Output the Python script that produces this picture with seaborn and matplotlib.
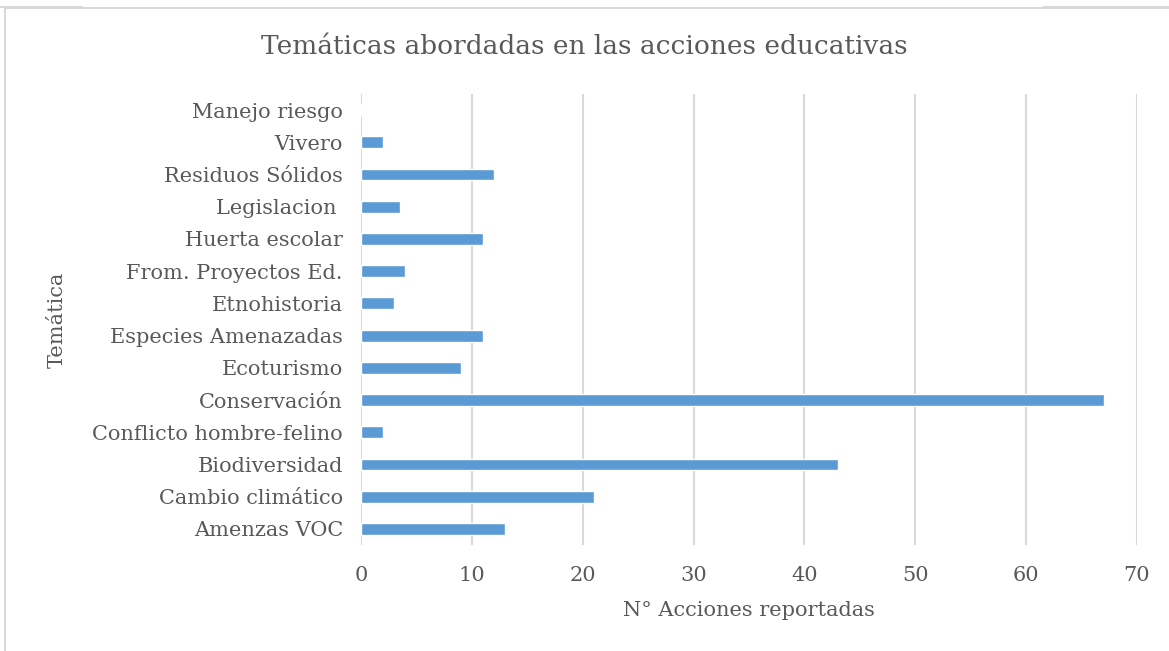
import matplotlib.pyplot as plt
import seaborn as sns
import pandas as pd
from matplotlib.lines import Line2D

tematicas = ["Manejo riesgo", "Vivero", "Residuos Sólidos", "Legislacion ",
             "Huerta escolar", "From. Proyectos Ed.", "Etnohistoria",
             "Especies Amenazadas", "Ecoturismo", "Conservación",
             "Conflicto hombre-felino", "Biodiversidad", "Cambio climático",
             "Amenzas VOC"]
acciones = [0, 2, 12, 3.5, 11, 4, 3, 11, 9, 67, 2, 43, 21, 13]
xticks = [0, 10, 20, 30, 40, 50, 60, 70]

df = pd.DataFrame({"Temática": tematicas, "Acciones": acciones})

sns.set_style("white")
plt.rcParams["font.family"] = ["DejaVu Serif"]
text_color = "#595959"
W, H = 1169, 651

fig = plt.figure(figsize=(W / 100, H / 100), dpi=100)
ax = fig.add_axes([361 / W, 1 - 545 / H, (1137 - 361) / W, (545 - 94) / H])

sns.barplot(data=df, x="Acciones", y="Temática", orient="h", color="#5B9BD5",
            width=0.37, saturation=1, ax=ax)

ax.set_xlim(0, 70)
ax.set_xticks(xticks)
ax.grid(axis="x", color="#D9D9D9", linewidth=1.5)
ax.set_axisbelow(True)
for s in ax.spines.values():
    s.set_visible(False)
ax.tick_params(axis="both", length=0, labelsize=15, colors=text_color)
ax.tick_params(axis="x", pad=15)
ax.tick_params(axis="y", pad=13)
ax.set_xlabel("N° Acciones reportadas", fontsize=15, color=text_color, labelpad=12)
ax.set_ylabel("Temática", fontsize=15, color=text_color)
ax.yaxis.set_label_coords(-294 / 776, 0.5)
fig.suptitle("Temáticas abordadas en las acciones educativas", y=1 - 47 / H,
             va="center", fontsize=19, color=text_color)

# light frame of the chart area
frame = dict(color="#D9D9D9", linewidth=1.5, transform=fig.transFigure)
fig.add_artist(Line2D([5 / W, 5 / W], [0, 1 - 8 / H], **frame))
fig.add_artist(Line2D([5 / W, 1], [1 - 8 / H, 1 - 8 / H], **frame))
fig.add_artist(Line2D([0, 82 / W], [1 - 7 / H, 1 - 7 / H], **frame))
fig.add_artist(Line2D([1043 / W, 1], [1 - 7 / H, 1 - 7 / H], **frame))

fig.savefig("out.png", dpi=100)
plt.close()
